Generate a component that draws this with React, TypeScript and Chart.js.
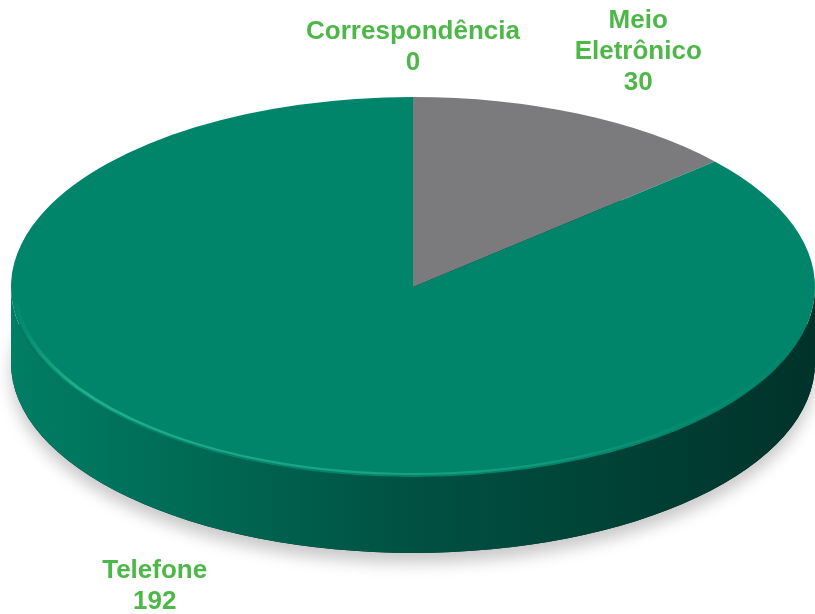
import React, { useEffect, useRef } from 'react';
import { Chart, registerables } from 'chart.js';

Chart.register(...registerables);

// ---- data ----
const categories = ['Correspondência', 'Meio Eletrônico', 'Telefone'];
const values = [0, 30, 192];

// ---- styles ----
const topColors = ['#4db848', '#7b7b7d', '#00856b'];
const wallColors = [
  ['#5fc85a', '#3f9a3a', '#2a6a27'],
  ['#8a8a8c', '#5c5c5e', '#3c3c3e'],
  ['#007e64', '#005142', '#00322a'],
];
const labelFactors = [
  [1.26, 1.26],
  [1.36, 1.36],
  [1.56, 1.73],
];
const DEPTH = 76;
const LABEL_FONT = 'bold 26px "Liberation Sans", Arial, sans-serif';
const LABEL_COLOR = '#4db848';
const LINE_H = 31;

const pie3d = {
  id: 'pie3d',
  beforeDatasetsDraw(chart: any) {
    const ctx = chart.ctx as CanvasRenderingContext2D;
    const arcs = chart.getDatasetMeta(0).data as any[];
    if (!arcs.length) return;
    const { x, y, outerRadius: R } = arcs[0];
    const sx = chart.chartArea.width / 2 / R;
    ctx.save();
    ctx.translate(x, 0);
    ctx.scale(sx, 1);
    ctx.translate(-x, 0);

    // soft shadow under the disc
    ctx.save();
    ctx.shadowColor = 'rgba(0,0,0,0.22)';
    ctx.shadowBlur = 16;
    ctx.shadowOffsetY = 10;
    ctx.fillStyle = '#00322a';
    ctx.beginPath();
    ctx.arc(x, y + DEPTH, R, 0, Math.PI * 2);
    ctx.fill();
    ctx.restore();

    // walls
    arcs.forEach((arc: any, i: number) => {
      const { startAngle, endAngle } = arc;
      if (endAngle - startAngle <= 0) return;
      const g = ctx.createLinearGradient(x - R, 0, x + R, 0);
      const c = wallColors[i];
      g.addColorStop(0, c[0]);
      g.addColorStop(0.5, c[1]);
      g.addColorStop(1, c[2]);
      for (let k = -1; k <= 1; k++) {
        const lo = Math.max(startAngle, k * 2 * Math.PI);
        const hi = Math.min(endAngle, k * 2 * Math.PI + Math.PI);
        if (hi <= lo) continue;
        ctx.beginPath();
        ctx.arc(x, y, R, lo, hi);
        ctx.arc(x, y + DEPTH, R, hi, lo, true);
        ctx.closePath();
        ctx.fillStyle = g;
        ctx.fill();
      }
    });
  },
  afterDatasetsDraw(chart: any) {
    const ctx = chart.ctx as CanvasRenderingContext2D;
    const arcs = chart.getDatasetMeta(0).data as any[];
    if (arcs.length) {
      const { x, y, outerRadius: R } = arcs[0];
      // rim highlight
      const g = ctx.createLinearGradient(x - R, 0, x + R, 0);
      g.addColorStop(0, 'rgba(40,185,145,0.0)');
      g.addColorStop(0.08, 'rgba(40,185,145,0.8)');
      g.addColorStop(0.6, 'rgba(40,175,140,0.55)');
      g.addColorStop(1, 'rgba(30,150,120,0.0)');
      ctx.beginPath();
      ctx.arc(x, y - 1.5, R - 1.5, 0.12 * Math.PI, 0.97 * Math.PI);
      ctx.strokeStyle = g;
      ctx.lineWidth = 2;
      ctx.stroke();
    }
    ctx.restore();
  },
  afterDraw(chart: any) {
    const ctx = chart.ctx as CanvasRenderingContext2D;
    const arcs = chart.getDatasetMeta(0).data as any[];
    if (!arcs.length) return;
    const { x, y, outerRadius: R } = arcs[0];
    const rx = chart.chartArea.width / 2;
    ctx.save();
    ctx.font = LABEL_FONT;
    ctx.fillStyle = LABEL_COLOR;
    ctx.textAlign = 'center';
    ctx.textBaseline = 'middle';
    arcs.forEach((arc: any, i: number) => {
      const theta = (arc.startAngle + arc.endAngle) / 2 + Math.PI / 2;
      const px = x + labelFactors[i][0] * rx * Math.sin(theta);
      const py = y - labelFactors[i][1] * R * Math.cos(theta);
      const lines = [...String(chart.data.labels[i]).split(' '), String(chart.data.datasets[0].data[i])];
      const top = py - ((lines.length - 1) * LINE_H) / 2;
      lines.forEach((ln, j) => ctx.fillText(ln, px, top + j * LINE_H));
    });
    ctx.restore();
  },
};

export default function App() {
  const ref = useRef<HTMLCanvasElement | null>(null);
  useEffect(() => {
    if (!ref.current) return;
    const chart = new Chart(ref.current, {
      type: 'pie',
      data: {
        labels: categories,
        datasets: [
          {
            data: values,
            backgroundColor: topColors,
            borderWidth: 0,
            hoverOffset: 0,
            clip: false as any,
          },
        ],
      },
      options: {
        animation: false,
        responsive: false,
        events: [],
        layout: { padding: { left: 11, right: 0, top: 97, bottom: 137 } },
        plugins: { legend: { display: false }, tooltip: { enabled: false } },
      },
      plugins: [pie3d],
    });
    return () => chart.destroy();
  }, []);
  return (
    <div style={{ position: 'absolute', left: 0, top: 0, width: 815, height: 614, background: '#fff' }}>
      <canvas ref={ref} width={815} height={614} style={{ display: 'block' }} />
    </div>
  );
}
